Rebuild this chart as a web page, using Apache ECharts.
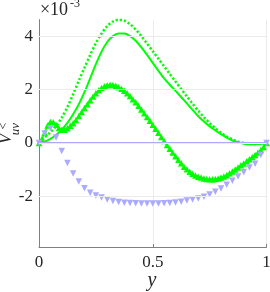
<!DOCTYPE html>
<html><head><meta charset="utf-8">
<script src="https://cdn.jsdelivr.net/npm/echarts@6/dist/echarts.min.js"></script>
<style>html,body{margin:0;padding:0;background:#fff}#c{width:270px;height:292px}</style>
</head><body><div id="c"></div>
<script>
// x positions (y coordinate in the figure)
const x41 = [0,0.025,0.05,0.075,0.1,0.125,0.15,0.175,0.2,0.225,0.25,0.275,0.3,0.325,0.35,0.375,0.4,0.425,0.45,0.475,0.5,0.525,0.55,0.575,0.6,0.625,0.65,0.675,0.7,0.725,0.75,0.775,0.8,0.825,0.85,0.875,0.9,0.925,0.95,0.975,1];
const x81 = [0,0.0125,0.025,0.0375,0.05,0.0625,0.075,0.0875,0.1,0.1125,0.125,0.1375,0.15,0.1625,0.175,0.1875,0.2,0.2125,0.225,0.2375,0.25,0.2625,0.275,0.2875,0.3,0.3125,0.325,0.3375,0.35,0.3625,0.375,0.3875,0.4,0.4125,0.425,0.4375,0.45,0.4625,0.475,0.4875,0.5,0.5125,0.525,0.5375,0.55,0.5625,0.575,0.5875,0.6,0.6125,0.625,0.6375,0.65,0.6625,0.675,0.6875,0.7,0.7125,0.725,0.7375,0.75,0.7625,0.775,0.7875,0.8,0.8125,0.825,0.8375,0.85,0.8625,0.875,0.8875,0.9,0.9125,0.925,0.9375,0.95,0.9625,0.975,0.9875,1];
// values in units of 1e-3
const greenDotted = [0,0.2,0.4,0.62,0.95,1.35,1.82,2.33,2.82,3.3,3.74,4.1,4.38,4.55,4.62,4.58,4.45,4.25,4.0,3.72,3.44,3.15,2.87,2.58,2.3,2.02,1.74,1.47,1.2,0.96,0.74,0.55,0.38,0.24,0.13,0.05,0.0,-0.03,-0.04,-0.03,0];
const greenSolid = [0,0.05,0.15,0.3,0.5,0.75,1.07,1.45,1.9,2.42,2.95,3.42,3.78,4.0,4.1,4.1,4.0,3.83,3.58,3.3,3.0,2.7,2.42,2.18,1.95,1.72,1.48,1.24,1.0,0.8,0.62,0.47,0.33,0.2,0.09,0.02,-0.03,-0.05,-0.05,-0.03,0];
const greenTri = [0,0.15,0.38,0.65,0.78,0.77,0.68,0.56,0.49,0.49,0.55,0.64,0.74,0.86,1.01,1.16,1.31,1.45,1.6,1.74,1.86,1.97,2.06,2.12,2.16,2.18,2.17,2.14,2.09,2.03,1.95,1.86,1.76,1.64,1.52,1.39,1.25,1.11,0.97,0.83,0.68,0.53,0.38,0.22,0.07,-0.08,-0.22,-0.36,-0.5,-0.63,-0.76,-0.89,-0.99,-1.08,-1.16,-1.22,-1.27,-1.3,-1.33,-1.35,-1.36,-1.36,-1.35,-1.33,-1.3,-1.26,-1.21,-1.14,-1.07,-1.0,-0.92,-0.84,-0.77,-0.69,-0.61,-0.53,-0.45,-0.36,-0.27,-0.15,0];
const lavTri = [0,0.35,0.55,0.2,-0.3,-0.75,-1.15,-1.45,-1.7,-1.87,-1.97,-2.05,-2.12,-2.18,-2.21,-2.24,-2.25,-2.26,-2.27,-2.27,-2.27,-2.27,-2.26,-2.25,-2.23,-2.2,-2.16,-2.12,-2.08,-2.02,-1.93,-1.83,-1.71,-1.57,-1.42,-1.26,-1.1,-0.92,-0.78,-0.45,0];
const lavLineX = [0,1];
const lavLineY = [0,0];
const yTicks = [-2,0,2,4];
const xTicks = [0,0.5,1];

const pair = (xs, ys) => xs.map((v, i) => [v, ys[i]]);
const GREEN = '#00ff00', LAV = '#aaaaff', TXT = '#262626', AX = '#808080', GRID = '#ebebeb';
const serif = '"Liberation Serif", "DejaVu Serif", serif';
const txt = (x, y, text, size, extra) => Object.assign({type: 'text', x: x, y: y,
  style: {text: text, font: (extra && extra.italic ? 'italic ' : '') + size + 'px ' + serif, fill: TXT,
    align: 'center', verticalAlign: 'middle'}}, extra && extra.rot ? {rotation: extra.rot} : {});

const chart = echarts.init(document.getElementById('c'), null, {renderer: 'canvas'});
chart.setOption({
  animation: false,
  grid: {left: 39, right: 3.5, top: 19.6, bottom: 45, containLabel: false, outerBoundsMode: 'none'},
  xAxis: {
    type: 'value', min: 0, max: 1, interval: 0.5,
    axisLine: {show: true, onZero: false, lineStyle: {color: AX, width: 1}},
    axisTick: {show: true, inside: true, length: 3, lineStyle: {color: AX}},
    splitLine: {show: true, lineStyle: {color: GRID, width: 1}},
    axisLabel: {color: TXT, fontFamily: serif, fontSize: 17, margin: 7,
      formatter: v => xTicks.indexOf(v) >= 0 ? String(v) : ''}
  },
  yAxis: {
    type: 'value', min: -3.9, max: 4.62,
    axisLine: {show: true, onZero: false, lineStyle: {color: AX, width: 1}},
    axisTick: {show: true, inside: true, length: 3, lineStyle: {color: AX}, customValues: yTicks},
    splitLine: {show: false},
    axisLabel: {color: TXT, fontFamily: serif, fontSize: 17, margin: 6, customValues: yTicks,
      formatter: v => String(v)}
  },
  graphic: [
    txt(54, 10, '×10', 18),
    txt(75, 4, '-3', 12),
    txt(152, 281, 'y', 20, {italic: true}),
    txt(6, 139, 'V', 19, {italic: true, rot: Math.PI / 2}),
    txt(4, 126, '<', 12, {rot: Math.PI / 2}),
    txt(15.5, 129, 'uv', 13, {italic: true, rot: Math.PI / 2})
  ],
  series: [
    {type: 'line', data: [], z: 1, silent: true,
      markLine: {silent: true, symbol: 'none', label: {show: false}, animation: false,
        lineStyle: {color: GRID, width: 1, type: 'solid'},
        data: yTicks.map(v => ({yAxis: v}))}},
    {type: 'line', data: pair(x41, greenDotted), smooth: 0.3, showSymbol: false, z: 2,
      lineStyle: {color: GREEN, width: 2.5, type: [2.2, 2], cap: 'butt'}},
    {type: 'line', data: pair(x41, greenSolid), smooth: 0.3, showSymbol: false, z: 2,
      lineStyle: {color: GREEN, width: 2}},
    {type: 'line', data: pair(x81, greenTri), smooth: 0.3, z: 2,
      symbol: 'triangle', symbolSize: 6.5, showAllSymbol: true,
      itemStyle: {color: GREEN}, lineStyle: {color: GREEN, width: 1.5}},
    {type: 'line', data: pair(lavLineX, lavLineY), showSymbol: false, z: 3,
      lineStyle: {color: LAV, width: 2}},
    {type: 'line', data: pair(x41, lavTri), z: 3,
      symbol: 'triangle', symbolRotate: 180, symbolSize: 6.5, showAllSymbol: true,
      itemStyle: {color: LAV}, lineStyle: {width: 0, opacity: 0}}
  ]
});
</script></body></html>
